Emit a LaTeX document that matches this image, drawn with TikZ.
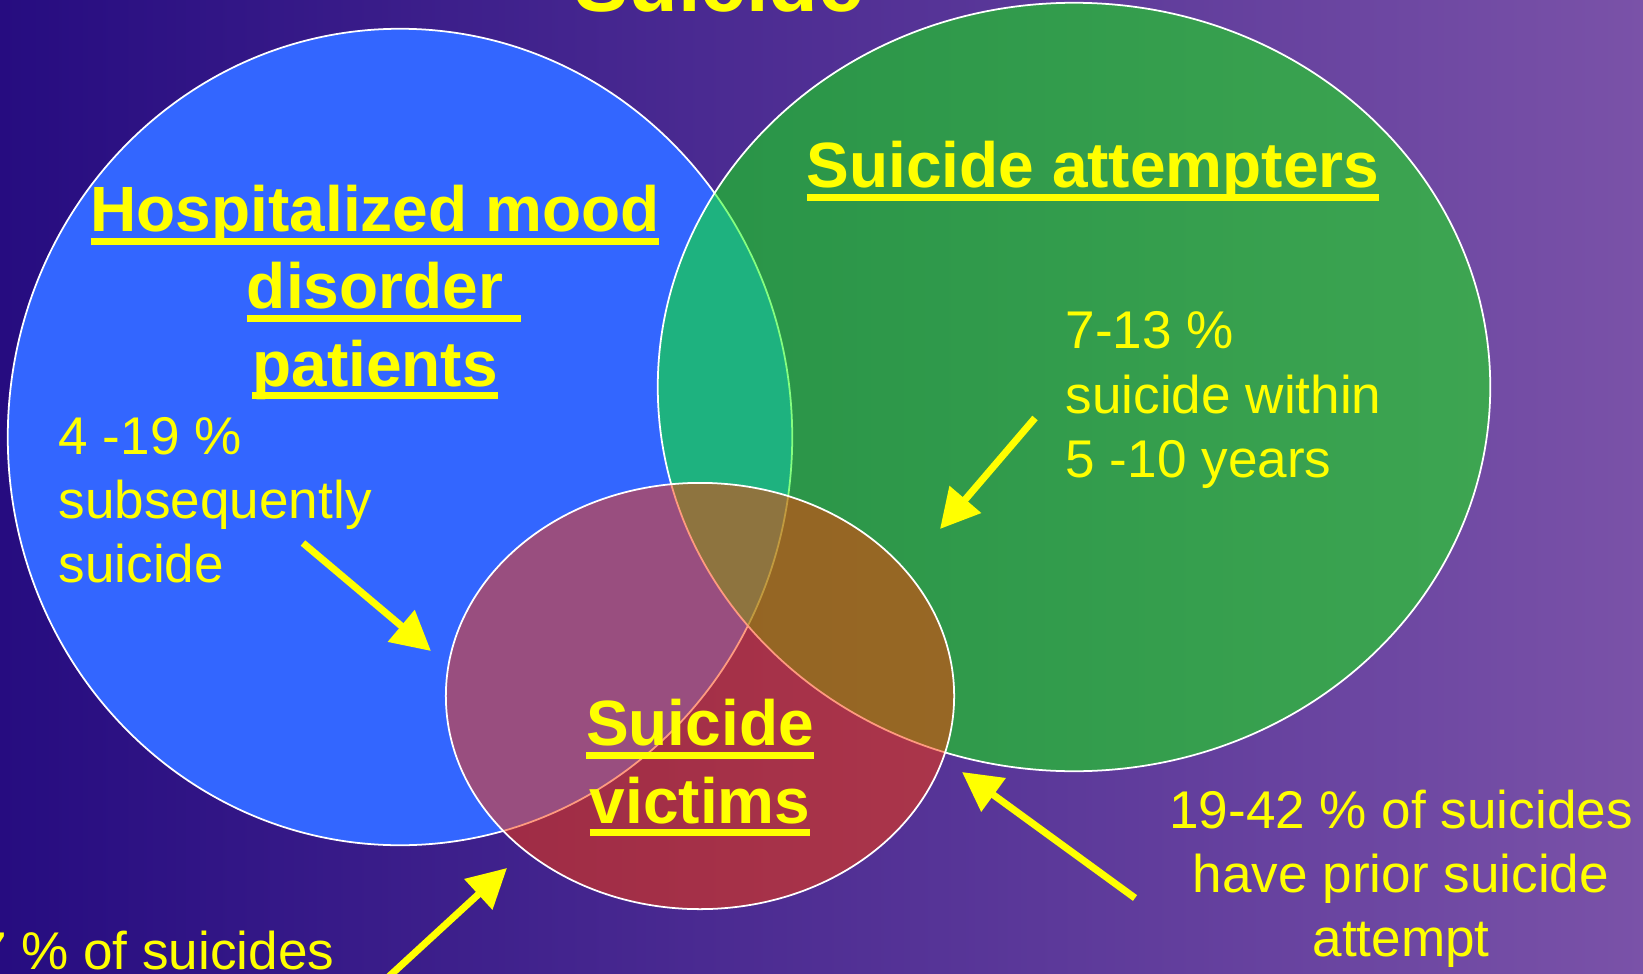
\documentclass[tikz,border=0pt]{standalone}
\usepackage{fontspec}
\setmainfont{Liberation Sans}
\usetikzlibrary{arrows.meta}
\usetikzlibrary{shapes.geometric}

\definecolor{bgleft}{RGB}{38,12,128}
\definecolor{bgright}{RGB}{122,82,168}
\definecolor{setblue}{RGB}{51,102,255}
\definecolor{setgreen}{RGB}{10,255,0}
\definecolor{setred}{RGB}{255,55,0}
\definecolor{txtyellow}{RGB}{255,255,0}

\newcommand\yul[1]{\setbox0\hbox{#1}\rlap{\rule[-0.2em]{\wd0}{0.1em}}\box0}

\tikzset{
	set/.style={ellipse,draw=white,line width=0.5pt,inner sep=0pt},
	heading/.style={text=txtyellow,font=\fontsize{18.2}{21.9}\selectfont\bfseries,align=center},
	note/.style={text=txtyellow,font=\fontsize{15.1}{18.2}\selectfont,inner sep=0pt},
	pointer/.style={-{Triangle[length=3.9mm,width=4mm]},draw=txtyellow,line width=2pt}
}

\begin{document}
\begin{tikzpicture}[x=0.01cm,y=-0.01cm]
	\useasboundingbox (0,0) rectangle (1643,973);
	\clip (0,0) rectangle (1643,973);
	\shade[left color=bgleft,right color=bgright] (0,0) rectangle (1643,973);
	\node[heading,anchor=base,font=\fontsize{23.1}{27}\selectfont\bfseries] (title) at (719,12) {Suicide};
	% the three sets
	\node[set,fill=setblue,minimum width=7.84cm,minimum height=8.16cm] (mood) at (400,437) {};
	\node[set,fill=setgreen,fill opacity=0.5,minimum width=8.32cm,minimum height=7.68cm] (attempt) at (1074,387) {};
	\node[set,fill=setred,fill opacity=0.5,minimum width=5.08cm,minimum height=4.26cm] (victim) at (700,696) {};
	% labels (base = last line)
	\node[heading,anchor=base] (moodlbl) at (375,386) {\yul{Hospitalized mood}\\\yul{disorder}\rlap{\yul{\ }}\\\yul{patients}};
	\node[heading,anchor=base] (attemptlbl) at (1093,188) {\yul{Suicide attempters}};
	\node[heading,anchor=base] (victimlbl) at (700,823) {\yul{Suicide}\\\yul{victims}};
	\node[note,anchor=base west,align=left] (moodnote) at (58,582) {4 -19 \%\\subsequently\\suicide};
	\node[note,anchor=base west,align=left] (attemptnote) at (1065,477) {7-13 \%\\suicide within\\5 -10 years};
	\node[note,anchor=base,align=center] (priornote) at (1401,956) {19-42 \% of suicides\\have prior suicide\\attempt};
	\node[note,anchor=base east] (victimnote) at (335,969) {7 \% of suicides};
	% arrows
	\coordinate (p1) at (303,543);
	\coordinate (q1) at (431,651);
	\coordinate (p2) at (1035,418);
	\coordinate (q2) at (940,529);
	\coordinate (p3) at (1135,898);
	\coordinate (q3) at (962,772);
	\coordinate (p4) at (383,982);
	\coordinate (q4) at (507,868);
	\draw[pointer] (p1) -- (q1);
	\draw[pointer] (p2) -- (q2);
	\draw[pointer] (p3) -- (q3);
	\draw[pointer] (p4) -- (q4);
\end{tikzpicture}
\end{document}
